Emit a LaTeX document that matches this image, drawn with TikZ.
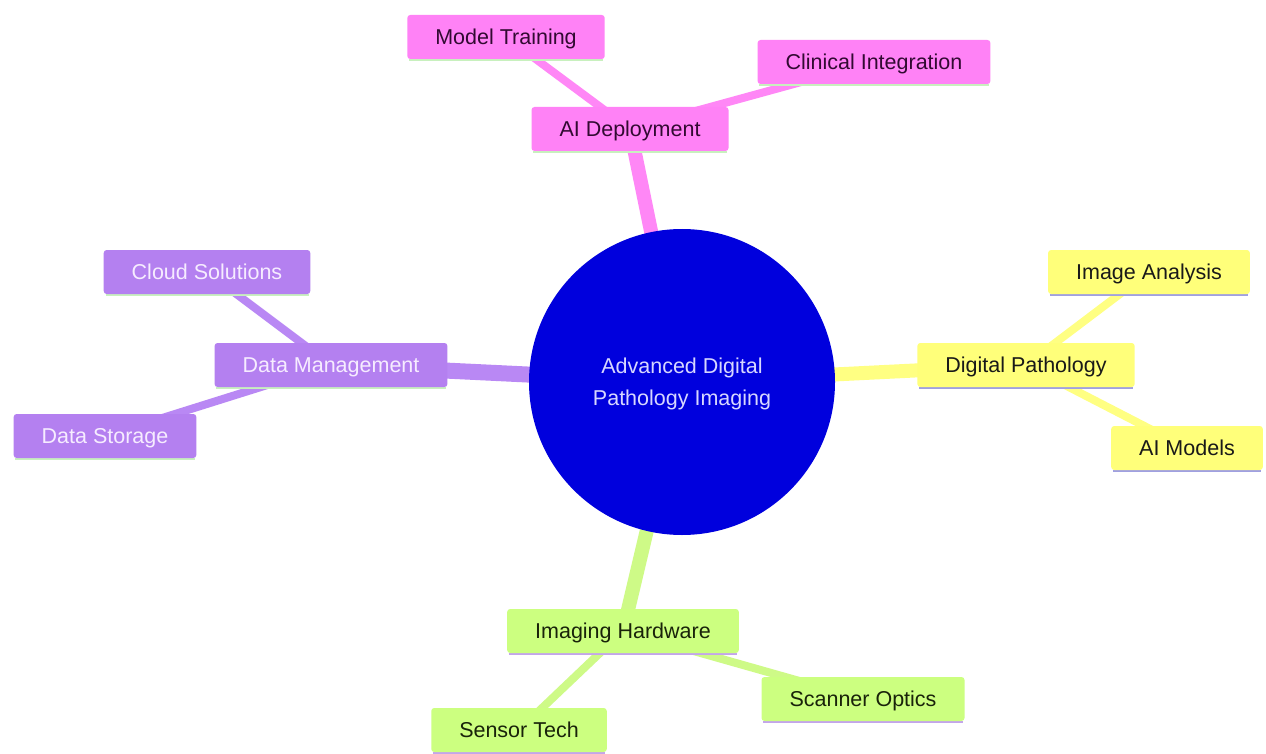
\documentclass[tikz,border=0pt]{standalone}
\usepackage{fontspec}
\setmainfont{Liberation Sans}
\usetikzlibrary{backgrounds}
\definecolor{pinkfill}{RGB}{255,130,246}
\definecolor{pinkedge}{RGB}{255,135,246}
\definecolor{pinktext}{RGB}{50,10,50}
\definecolor{purpfill}{RGB}{180,128,240}
\definecolor{purpedge}{RGB}{185,136,244}
\definecolor{purptext}{RGB}{246,236,255}
\definecolor{yelfill}{RGB}{255,255,122}
\definecolor{yeledge}{RGB}{255,255,130}
\definecolor{yeltext}{RGB}{25,25,25}
\definecolor{grnfill}{RGB}{204,255,128}
\definecolor{grnedge}{RGB}{206,250,135}
\definecolor{grntext}{RGB}{25,35,10}
\definecolor{centerblue}{RGB}{0,0,221}
\definecolor{centertext}{RGB}{215,215,255}
\definecolor{lineA}{RGB}{200,240,190}
\definecolor{lineB}{RGB}{160,160,225}
\definecolor{lineC}{RGB}{195,165,235}
\tikzset{
  box/.style={rectangle, rounded corners=3pt, inner xsep=28pt, inner ysep=0pt,
    text height=17pt, text depth=2pt,
    minimum height=44pt, font=\fontsize{21.5}{25}\selectfont},
  underA/.style={append after command={\pgfextra{\draw[lineA, line width=2.5pt]
    ([xshift=2pt,yshift=-1pt]\tikzlastnode.south west) -- ([xshift=-2pt,yshift=-1pt]\tikzlastnode.south east);}}},
  underB/.style={append after command={\pgfextra{\draw[lineB, line width=2.5pt]
    ([xshift=2pt,yshift=-1pt]\tikzlastnode.south west) -- ([xshift=-2pt,yshift=-1pt]\tikzlastnode.south east);}}},
  underC/.style={append after command={\pgfextra{\draw[lineC, line width=2.5pt]
    ([xshift=2pt,yshift=-1pt]\tikzlastnode.south west) -- ([xshift=-2pt,yshift=-1pt]\tikzlastnode.south east);}}},
  pinkbox/.style={box, fill=pinkfill, text=pinktext, underA},
  purpbox/.style={box, fill=purpfill, text=purptext, underA},
  yelbox/.style={box, fill=yelfill, text=yeltext, underB},
  grnbox/.style={box, fill=grnfill, text=grntext, underC},
  mainedge/.style={line width=14pt},
  childedge/.style={line width=8pt},
}
\begin{document}
\begin{tikzpicture}[x=1pt,y=-1pt]
\useasboundingbox (0,0) rectangle (1266,754);
\node[circle, fill=centerblue, minimum size=306pt, inner sep=0pt] (root) at (682,382) {};
\node[text=centertext, align=center, font=\fontsize{21.5}{32}\selectfont] (rootlabel)
  at (682,384) {Advanced Digital\\Pathology Imaging};
\node[pinkbox] (ai) at (630,129) {AI Deployment};
\node[pinkbox] (mt) at (506,37) {Model Training};
\node[pinkbox] (ci) at (874,62) {Clinical Integration};
\node[purpbox] (dm) at (331,365) {Data Management};
\node[purpbox] (cs) at (207,272) {Cloud Solutions};
\node[purpbox] (ds) at (105,436) {Data Storage};
\node[yelbox] (dp) at (1026,365) {Digital Pathology};
\node[yelbox] (ia) at (1149,272) {Image Analysis};
\node[yelbox] (am) at (1187,448) {AI Models};
\node[grnbox] (ih) at (623,631) {Imaging Hardware};
\node[grnbox] (so) at (863,699) {Scanner Optics};
\node[grnbox] (st) at (519,730) {Sensor Tech};
\begin{scope}[on background layer]
\fill[white] (0,0) rectangle (1266,754);
\draw[pinkedge, mainedge] (root.center) -- (ai.center);
\draw[purpedge, line width=16pt] (root.center) -- (dm.center);
\draw[yeledge, mainedge] (root.center) -- (dp.center);
\draw[grnedge, mainedge] (root.center) -- (ih.center);
\draw[pinkedge, childedge] (ai.center) -- (mt.center);
\draw[pinkedge, childedge] (ai.center) -- (ci.center);
\draw[purpedge, childedge] (dm.center) -- (cs.center);
\draw[purpedge, childedge] (dm.center) -- (ds.center);
\draw[yeledge, childedge] (dp.center) -- (ia.center);
\draw[yeledge, childedge] (dp.center) -- (am.center);
\draw[grnedge, childedge] (ih.center) -- (so.center);
\draw[grnedge, childedge] (ih.center) -- (st.center);
\end{scope}
\end{tikzpicture}
\end{document}
